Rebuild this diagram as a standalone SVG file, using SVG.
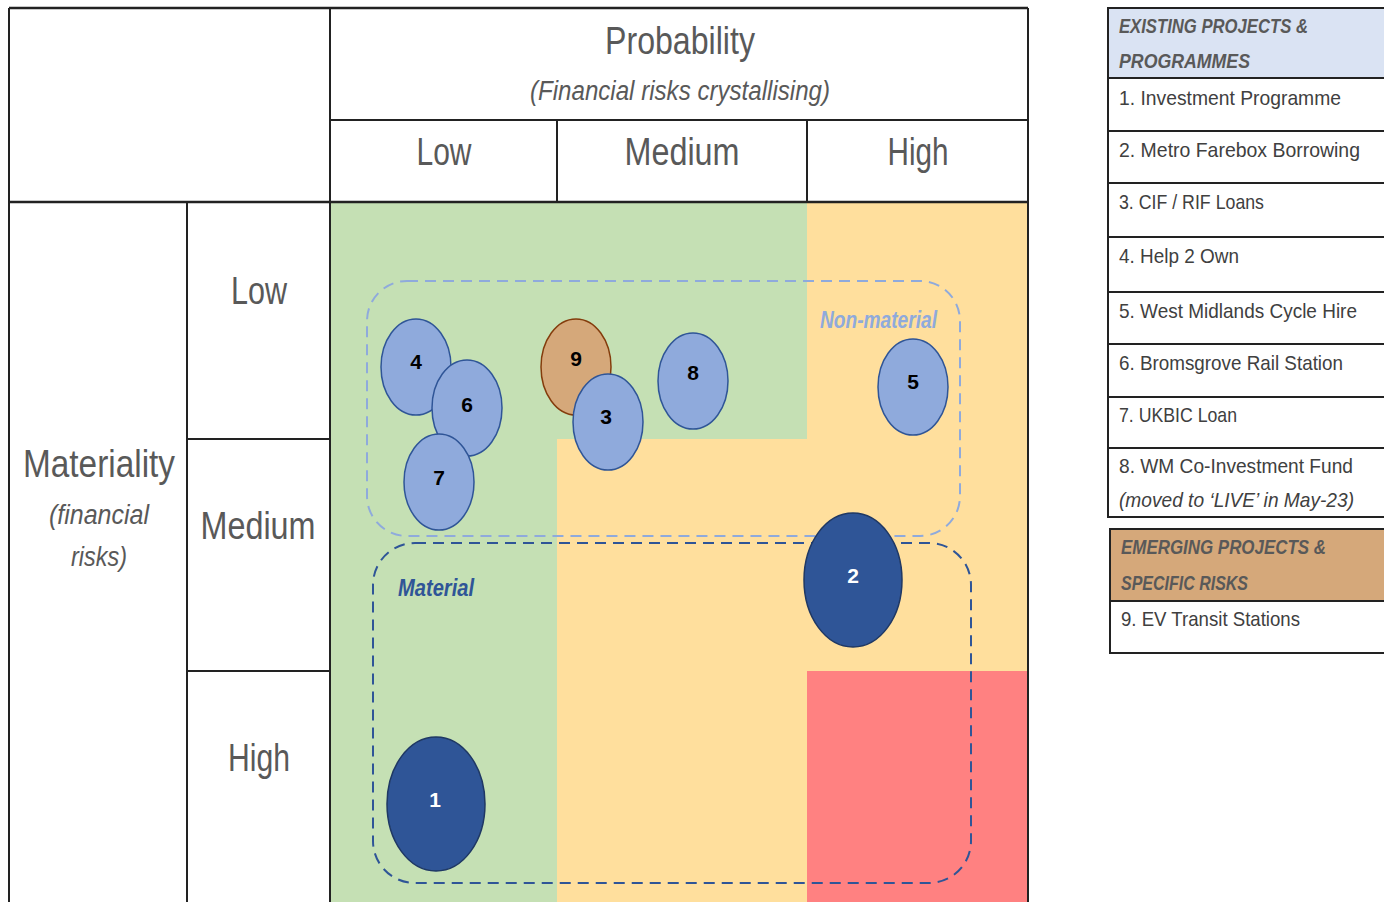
<svg xmlns="http://www.w3.org/2000/svg" width="1384" height="902" viewBox="0 0 1384 902">
<style>
text{font-family:"Liberation Sans Narrow","Liberation Sans",Arial,sans-serif;}
.hd{fill:#595959;font-size:38px;text-anchor:middle;}
.sub{fill:#595959;font-size:27px;font-style:italic;text-anchor:middle;}
.li{fill:#404040;font-size:21px;}
.lh{fill:#595959;font-size:21px;font-style:italic;font-weight:bold;}
.grid{stroke:#222;stroke-width:2;fill:none;}
.lt{fill:#8FAADC;stroke:#2F5597;stroke-width:1.5;}
.dk{fill:#2F5597;stroke:#1F3864;stroke-width:1.5;}
.br{fill:#D5A87A;stroke:#843C0C;stroke-width:1.5;}
.num{font-size:21px;font-weight:bold;text-anchor:middle;}
</style>
<rect width="1384" height="902" fill="#fff"/>
<g id="heatmap">
<rect x="330" y="202" width="477" height="237" fill="#C5E0B4"/>
<rect x="330" y="439" width="227" height="463" fill="#C5E0B4"/>
<rect x="807" y="202" width="221" height="469" fill="#FFDF9D"/>
<rect x="557" y="439" width="250" height="463" fill="#FFDF9D"/>
<rect x="807" y="671" width="221" height="231" fill="#FF8181"/>
</g>
<g id="grid" class="grid">
<line x1="9" y1="8" x2="1028" y2="8" stroke-width="2.5"/>
<line x1="9" y1="8" x2="9" y2="902"/>
<line x1="330" y1="8" x2="330" y2="902"/>
<line x1="1028" y1="8" x2="1028" y2="902"/>
<line x1="330" y1="120" x2="1028" y2="120"/>
<line x1="9" y1="202" x2="1028" y2="202" stroke-width="2.5"/>
<line x1="557" y1="120" x2="557" y2="202"/>
<line x1="807" y1="120" x2="807" y2="202"/>
<line x1="187" y1="202" x2="187" y2="902"/>
<line x1="187" y1="439" x2="330" y2="439"/>
<line x1="187" y1="671" x2="330" y2="671"/>
</g>
<g id="labels">
<text class="hd" x="680" y="54" textLength="150" lengthAdjust="spacingAndGlyphs">Probability</text>
<text class="sub" x="680" y="100" textLength="300" lengthAdjust="spacingAndGlyphs">(Financial risks crystallising)</text>
<text class="hd" x="444" y="165" textLength="55" lengthAdjust="spacingAndGlyphs">Low</text>
<text class="hd" x="682" y="165" textLength="115" lengthAdjust="spacingAndGlyphs">Medium</text>
<text class="hd" x="918" y="165" textLength="61" lengthAdjust="spacingAndGlyphs">High</text>
<text class="hd" x="259" y="304" textLength="56" lengthAdjust="spacingAndGlyphs">Low</text>
<text class="hd" x="258" y="539" textLength="115" lengthAdjust="spacingAndGlyphs">Medium</text>
<text class="hd" x="259" y="771" textLength="62" lengthAdjust="spacingAndGlyphs">High</text>
<text class="hd" x="99" y="477" textLength="152" lengthAdjust="spacingAndGlyphs">Materiality</text>
<text class="sub" x="99" y="524" textLength="100" lengthAdjust="spacingAndGlyphs">(financial</text>
<text class="sub" x="99" y="566" textLength="56" lengthAdjust="spacingAndGlyphs">risks)</text>
</g>
<g id="group-nonmaterial">
<rect x="367" y="281" width="593" height="255" rx="40" fill="none" stroke="#8FAADC" stroke-width="2" stroke-dasharray="11 7"/>
<text x="820" y="328" fill="#8FAADC" font-size="23" font-style="italic" font-weight="bold" textLength="117" lengthAdjust="spacingAndGlyphs">Non-material</text>
</g>
<g id="group-material">
<rect x="373" y="543" width="598" height="340" rx="42" fill="none" stroke="#2F5597" stroke-width="2" stroke-dasharray="11 7"/>
<text x="398" y="596" fill="#2F5597" font-size="23" font-style="italic" font-weight="bold" textLength="76" lengthAdjust="spacingAndGlyphs">Material</text>
</g>
<g id="node-4"><ellipse class="lt" cx="416" cy="367" rx="35" ry="48"/><text class="num" x="416" y="369" fill="#000">4</text></g>
<g id="node-6"><ellipse class="lt" cx="467" cy="408" rx="35" ry="48"/><text class="num" x="467" y="412" fill="#000">6</text></g>
<g id="node-7"><ellipse class="lt" cx="439" cy="482" rx="35" ry="48"/><text class="num" x="439" y="485" fill="#000">7</text></g>
<g id="node-9"><ellipse class="br" cx="576" cy="367" rx="35" ry="48"/><text class="num" x="576" y="366" fill="#000">9</text></g>
<g id="node-3"><ellipse class="lt" cx="608" cy="422" rx="35" ry="48"/><text class="num" x="606" y="424" fill="#000">3</text></g>
<g id="node-8"><ellipse class="lt" cx="693" cy="381" rx="35" ry="48"/><text class="num" x="693" y="380" fill="#000">8</text></g>
<g id="node-5"><ellipse class="lt" cx="913" cy="387" rx="35" ry="48"/><text class="num" x="913" y="389" fill="#000">5</text></g>
<g id="node-2"><ellipse class="dk" cx="853" cy="580" rx="49" ry="67"/><text class="num" x="853" y="583" fill="#fff">2</text></g>
<g id="node-1"><ellipse class="dk" cx="436" cy="804" rx="49" ry="67"/><text class="num" x="435" y="807" fill="#fff">1</text></g>
<g id="legend-existing">
<rect x="1108" y="8" width="290" height="70" fill="#DAE3F3"/>
<rect x="1108" y="8" width="290" height="509" class="grid"/>
<g class="grid">
<line x1="1108" y1="78" x2="1390" y2="78"/>
<line x1="1108" y1="131" x2="1390" y2="131"/>
<line x1="1108" y1="183" x2="1390" y2="183"/>
<line x1="1108" y1="237" x2="1390" y2="237"/>
<line x1="1108" y1="292" x2="1390" y2="292"/>
<line x1="1108" y1="344" x2="1390" y2="344"/>
<line x1="1108" y1="397" x2="1390" y2="397"/>
<line x1="1108" y1="448" x2="1390" y2="448"/>
</g>
<text class="lh" x="1119" y="33" textLength="189" lengthAdjust="spacingAndGlyphs">EXISTING PROJECTS &amp;</text>
<text class="lh" x="1119" y="68" textLength="131" lengthAdjust="spacingAndGlyphs">PROGRAMMES</text>
<text class="li" x="1119" y="105" textLength="222" lengthAdjust="spacingAndGlyphs">1. Investment Programme</text>
<text class="li" x="1119" y="157" textLength="241" lengthAdjust="spacingAndGlyphs">2. Metro Farebox Borrowing</text>
<text class="li" x="1119" y="209" textLength="145" lengthAdjust="spacingAndGlyphs">3. CIF / RIF Loans</text>
<text class="li" x="1119" y="263" textLength="120" lengthAdjust="spacingAndGlyphs">4. Help 2 Own</text>
<text class="li" x="1119" y="318" textLength="238" lengthAdjust="spacingAndGlyphs">5. West Midlands Cycle Hire</text>
<text class="li" x="1119" y="370" textLength="224" lengthAdjust="spacingAndGlyphs">6. Bromsgrove Rail Station</text>
<text class="li" x="1119" y="422" textLength="118" lengthAdjust="spacingAndGlyphs">7. UKBIC Loan</text>
<text class="li" x="1119" y="473" textLength="234" lengthAdjust="spacingAndGlyphs">8. WM Co-Investment Fund</text>
<text class="li" x="1119" y="507" font-style="italic" textLength="235" lengthAdjust="spacingAndGlyphs">(moved to ‘LIVE’ in May-23)</text>
</g>
<g id="legend-emerging">
<rect x="1110" y="529" width="290" height="72" fill="#D5A87A"/>
<rect x="1110" y="529" width="290" height="124" class="grid"/>
<line class="grid" x1="1110" y1="601" x2="1390" y2="601"/>
<text class="lh" x="1121" y="554" textLength="205" lengthAdjust="spacingAndGlyphs">EMERGING PROJECTS &amp;</text>
<text class="lh" x="1121" y="590" textLength="127" lengthAdjust="spacingAndGlyphs">SPECIFIC RISKS</text>
<text class="li" x="1121" y="626" textLength="179" lengthAdjust="spacingAndGlyphs">9. EV Transit Stations</text>
</g>
</svg>
